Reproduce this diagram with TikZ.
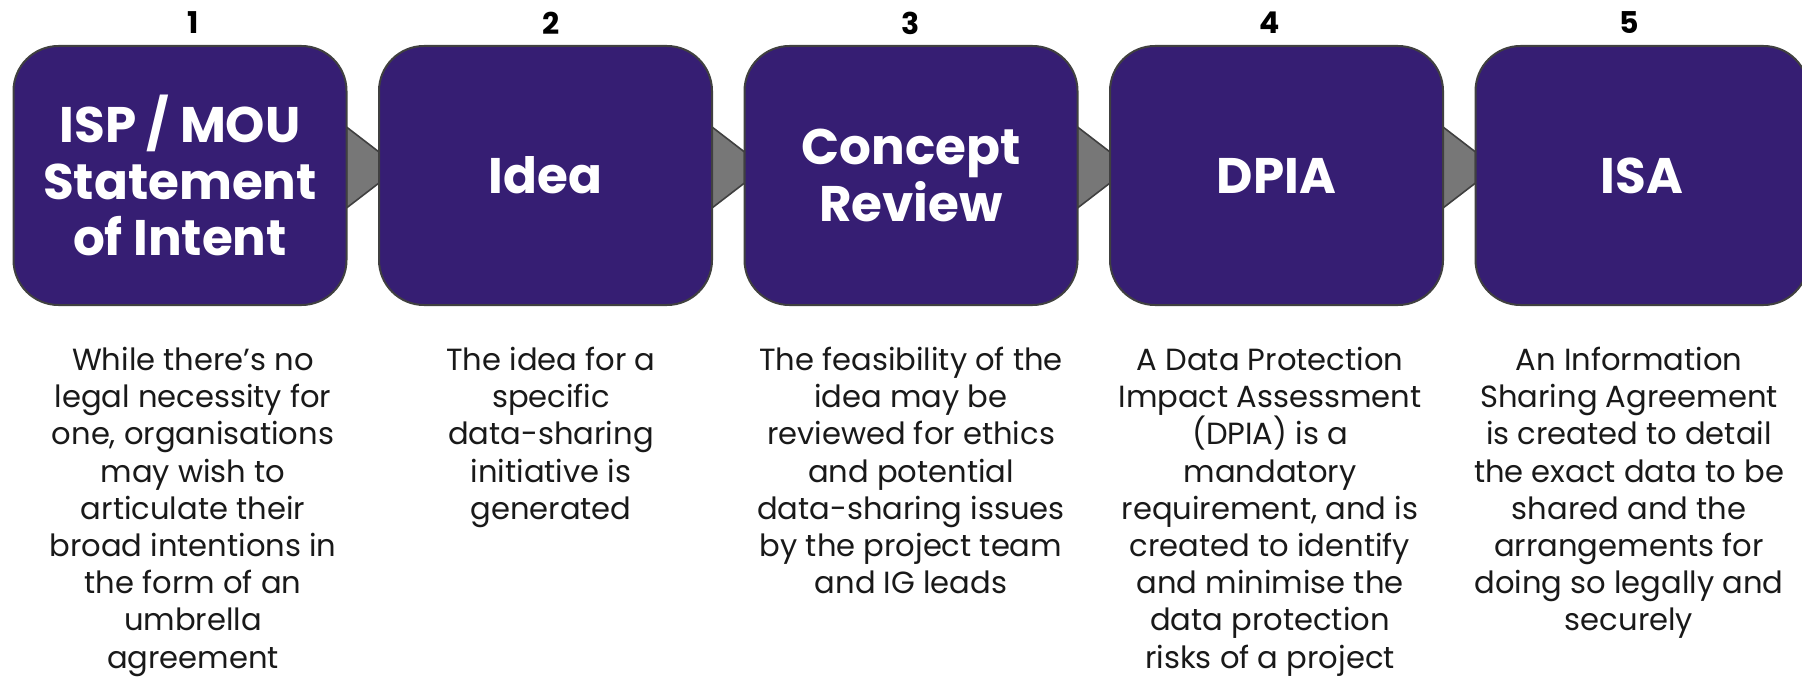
\documentclass[tikz,border=0pt]{standalone}
\usepackage{fontspec}
\setmainfont{Poppins}
\usetikzlibrary{calc}
\definecolor{boxpurple}{RGB}{54,30,115}
\definecolor{edgegray}{RGB}{64,64,64}
\definecolor{linkgray}{RGB}{119,119,119}
\begin{document}
\begin{tikzpicture}[x=0.5pt,y=-0.5pt,
  stage/.style={draw=edgegray,line width=1pt,fill=boxpurple,rounded corners=22.5pt,
    minimum width=166.5pt,minimum height=129.5pt,inner sep=0pt,text=white,align=center,
    font={\bfseries\fontsize{25pt}{28.25pt}\selectfont}},
  num/.style={font={\bfseries\fontsize{15pt}{18pt}\selectfont},text=black,inner sep=0pt},
  desc/.style={font={\fontsize{15.3pt}{18.6pt}\selectfont},text=black!90,align=center,inner sep=0pt,anchor=north},
  link/.style={fill=linkgray,draw=edgegray,line width=0.8pt,line join=miter}]
\useasboundingbox[fill=white] (0,0) rectangle (1802,679);
% connectors (drawn first, boxes cover their ends)
\coordinate (c1) at (180,175.5);
\coordinate (c2) at (545.5,175.5);
\coordinate (c3) at (911,175.5);
\coordinate (c4) at (1276.5,175.5);
\coordinate (c5) at (1642,175.5);
\foreach \a/\b in {c1/c2,c2/c3,c3/c4,c4/c5}{
  \draw[link] ($(\a)+(166.5,-48.5)$) -- ($(\b)+(-166.5,-23.5)$) -- ($(\b)+(-166.5,7.5)$) -- ($(\a)+(166.5,32.5)$) -- cycle;
}
% boxes
\node[stage] (b1) at (c1) {ISP / MOU\\Statement\\of Intent};
\node[stage] (b2) at (c2) {Idea};
\node[stage] (b3) at (c3) {Concept\\Review};
\node[stage] (b4) at (c4) {DPIA};
\node[stage] (b5) at (c5) {ISA};
% numbers
\node[num] (n1) at (193,23) {1};
\node[num] (n2) at (551,23) {2};
\node[num] (n3) at (911,23) {3};
\node[num] (n4) at (1270,23) {4};
\node[num] (n5) at (1629,23) {5};
% descriptions
\node[desc] (d1) at (193,344) {\strut While there’s no\\legal necessity for\\one, organisations\\may wish to\\articulate their\\broad intentions in\\the form of an\\umbrella\\agreement};
\node[desc] (d2) at (551,344) {\strut The idea for a\\specific\\data-sharing\\initiative is\\generated};
\node[desc] (d3) at (911,344) {\strut The feasibility of the\\idea may be\\reviewed for ethics\\and potential\\data-sharing issues\\by the project team\\and IG leads};
\node[desc] (d4) at (1270,344) {\strut A Data Protection\\Impact Assessment\\(DPIA) is a\\mandatory\\requirement, and is\\created to identify\\and minimise the\\data protection\\risks of a project};
\node[desc] (d5) at (1629,344) {\strut An Information\\Sharing Agreement\\is created to detail\\the exact data to be\\shared and the\\arrangements for\\doing so legally and\\securely};
\end{tikzpicture}
\end{document}
